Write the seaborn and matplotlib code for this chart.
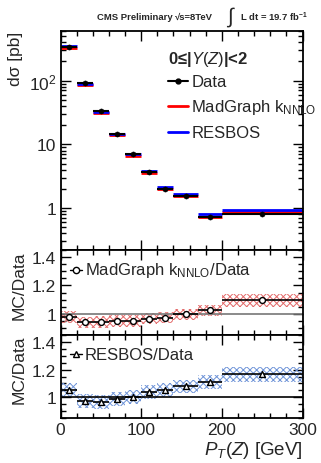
import numpy as np
import pandas as pd
import seaborn as sns
import matplotlib.pyplot as plt
from matplotlib.ticker import FixedLocator, MultipleLocator, LogLocator, NullFormatter

sns.set_style("ticks")
plt.rcParams['font.family'] = ['Liberation Sans', 'DejaVu Sans']
plt.rcParams['mathtext.fontset'] = 'custom'
plt.rcParams['mathtext.rm'] = 'Liberation Sans'
plt.rcParams['mathtext.it'] = 'Liberation Sans:italic'
plt.rcParams['mathtext.bf'] = 'Liberation Sans:bold'
plt.rcParams['hatch.linewidth'] = 0.7

# data
bin_lo = [0, 20, 40, 60, 80, 100, 120, 140, 170, 200]
bin_hi = [20, 40, 60, 80, 100, 120, 140, 170, 200, 300]
xsec_data = [331, 92, 33, 14.7, 7.0, 3.69, 2.02, 1.55, 0.72, 0.805]
ratio_madgraph = [0.977, 0.94, 0.942, 0.95, 0.95, 0.966, 0.972, 0.995, 1.023, 1.094]
ratio_resbos = [1.054, 0.972, 0.965, 0.988, 1.0, 1.037, 1.052, 1.078, 1.108, 1.165]
unc_madgraph = [0.04, 0.04, 0.04, 0.04, 0.04, 0.04, 0.04, 0.04, 0.04, 0.045]
unc_resbos = [0.05, 0.05, 0.05, 0.05, 0.05, 0.05, 0.05, 0.05, 0.05, 0.055]

df = pd.DataFrame({'lo': bin_lo, 'hi': bin_hi, 'data': xsec_data,
                   'r_mg': ratio_madgraph, 'r_rb': ratio_resbos,
                   'u_mg': unc_madgraph, 'u_rb': unc_resbos})
df['x'] = (df['lo'] + df['hi']) / 2
df['w'] = df['hi'] - df['lo']
df['mg'] = df['data'] * df['r_mg']
df['rb'] = df['data'] * df['r_rb']

fig = plt.figure(figsize=(3.21, 4.64), dpi=100)
W, H = 321, 464
def box(x0, y0, x1, y1):
    return [x0 / W, (H - y1) / H, (x1 - x0) / W, (y1 - y0) / H]

ax1 = fig.add_axes(box(60.5, 32, 302.5, 251))
ax2 = fig.add_axes(box(60.5, 251, 302.5, 336))
ax3 = fig.add_axes(box(60.5, 336, 302.5, 419))

for ax in (ax1, ax2, ax3):
    ax.set_xlim(0, 300)
    ax.xaxis.set_major_locator(MultipleLocator(100))
    ax.xaxis.set_minor_locator(MultipleLocator(20))
    ax.tick_params(which='both', direction='in', top=True, right=True,
                   labelsize=12.5, width=1, color='black', pad=3)
    ax.tick_params(which='major', length=7)
    ax.tick_params(which='minor', length=3.5)
    for s in ax.spines.values():
        s.set_linewidth(1.3)
        s.set_color('black')
    ax.set_facecolor('white')

# top panel
ax1.set_yscale('log')
ax1.set_ylim(0.22, 600)
ax1.hlines(df['mg'], df['lo'], df['hi'], color='#ff0000', lw=2, zorder=2)
ax1.hlines(df['rb'], df['lo'], df['hi'], color='#0000ff', lw=2, zorder=2)
ax1.errorbar(df['x'], df['data'], xerr=df['w'] / 2, yerr=df['data'] * 0.02,
             fmt='none', ecolor='black', elinewidth=1.5, zorder=3)
sns.scatterplot(x='x', y='data', data=df, ax=ax1, color='black', s=14,
                edgecolor='black', zorder=4, legend=False)
ax1.yaxis.set_major_locator(FixedLocator([1, 10, 100]))
ax1.yaxis.set_minor_locator(LogLocator(base=10, subs=np.arange(2, 10)))
ax1.yaxis.set_minor_formatter(NullFormatter())
ax1.set_yticklabels(['1', '10', '10$^{2}$'])
ax1.set_xticklabels([])
ax1.set_xlabel('')
ax1.set_ylabel('dσ [pb]', fontsize=12.5, loc='top', labelpad=4)

# legend in top panel
ax1.text(0.445, 0.875, '0≤|$\\mathbf{\\it{Y(Z)}}$|<2', transform=ax1.transAxes,
         fontsize=12, fontweight='bold', va='center')
ly = [0.77, 0.656, 0.537]
labels = ['Data', 'MadGraph k$_{\\mathrm{NNLO}}$', 'RESBOS']
colors = ['black', '#ff0000', '#0000ff']
for yy, lab, c in zip(ly, labels, colors):
    ax1.plot([0.445, 0.525], [yy, yy], color=c, lw=1.5 if c == 'black' else 2,
             transform=ax1.transAxes)
    ax1.text(0.54, yy, lab, transform=ax1.transAxes, fontsize=12, va='center')
ax1.plot([0.485], [ly[0]], 'o', color='black', ms=3.5, transform=ax1.transAxes)

# ratio panels
def ratio_panel(ax, rcol, ucol, hcolor, marker, ref_color, label):
    ax.bar(df['x'], 2 * df[ucol], bottom=df[rcol] - df[ucol], width=df['w'],
           fill=False, hatch='xxxxx', edgecolor=hcolor, linewidth=0, zorder=1)
    ax.axhline(1, color=ref_color, lw=1.2, zorder=2)
    ax.errorbar(df['x'], df[rcol], xerr=df['w'] / 2, fmt='none',
                ecolor='black', elinewidth=1.2, zorder=3)
    sns.scatterplot(x='x', y=rcol, data=df, ax=ax, marker=marker, s=18,
                    facecolor='white', edgecolor='black', linewidth=1,
                    zorder=4, legend=False)
    ax.set_ylim(0.85, 1.45)
    ax.yaxis.set_major_locator(FixedLocator([1.0, 1.2, 1.4]))
    ax.yaxis.set_minor_locator(MultipleLocator(0.05))
    ax.set_yticklabels(['1', '1.2', '1.4'])
    ax.set_ylabel('MC/Data', fontsize=12.5, loc='top', labelpad=4)
    ax.set_xlabel('')
    ax.plot([0.04, 0.09], [0.77, 0.77], color='black', lw=1,
            transform=ax.transAxes)
    ax.plot([0.065], [0.77], marker=marker, ms=4.5, mfc='white', mec='black',
            mew=1, transform=ax.transAxes)
    ax.text(0.1, 0.77, label, transform=ax.transAxes, fontsize=12, va='center')

ratio_panel(ax2, 'r_mg', 'u_mg', '#e36a6a', 'o', '#777777',
            'MadGraph k$_{\\mathrm{NNLO}}$/Data')
ratio_panel(ax3, 'r_rb', 'u_rb', '#6f94d8', '^', 'black', 'RESBOS/Data')
ax2.set_xticklabels([])
ax3.set_xticks([0, 100, 200, 300])
ax3.set_xticklabels(['0', '100', '200', '300'])
ax3.set_xlabel('$P_{T}(Z)$ [GeV]', fontsize=13.5, loc='right', labelpad=1)

# header
fig.text(97 / W, 1 - 17 / H, 'CMS Preliminary', fontsize=6.8, fontweight='bold', va='center')
fig.text(175 / W, 1 - 17 / H, '√s=8TeV', fontsize=6.8, fontweight='bold', va='center')
fig.text(227 / W, 1 - 17 / H, '∫', fontsize=15, va='center')
fig.text(240 / W, 1 - 17 / H, 'L dt = 19.7 fb$^{\\mathbf{-1}}$', fontsize=6.8,
         fontweight='bold', va='center')

fig.savefig('out.png', dpi=100)
